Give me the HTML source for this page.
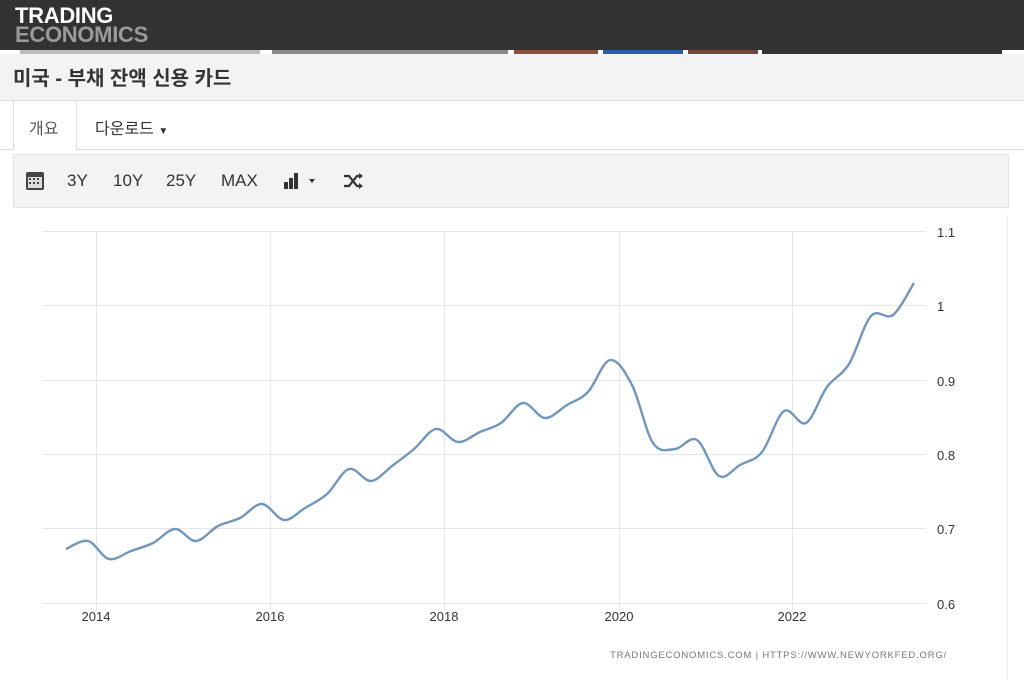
<!DOCTYPE html>
<html><head><meta charset="utf-8"><style>
body{margin:0;width:1024px;height:680px;background:#fff;font-family:"Liberation Sans","Noto Sans CJK KR",sans-serif;overflow:hidden;position:relative}
.hdr{position:absolute;left:0;top:0;width:1024px;height:50px;background:#323232}
.logo{position:absolute;left:15px;top:6px;font-weight:bold;font-size:22px;line-height:19px;letter-spacing:-0.3px}
.strip{position:absolute;top:50px;height:4px}
.title{position:absolute;left:0;top:54px;width:1024px;height:46px;background:#f3f3f3;border-bottom:1px solid #ddd}
.title span{position:absolute;left:13px;top:8px;font-size:20px;font-weight:bold;color:#333}
.tabs{position:absolute;top:101px;left:0;width:1024px;height:48px;border-bottom:1px solid #ddd}
.tb{position:absolute;left:13px;top:154px;width:994px;height:52px;background:#f3f3f3;border:1px solid #e2e2e2}
.tb span{position:absolute;top:16px;font-size:17px;color:#333}
</style></head><body>
<div class="hdr"><div class="logo"><div style="color:#fff">TRADING</div><div style="color:#9a9a9a">ECONOMICS</div></div></div>
<div class="strip" style="left:20px;width:240px;background:#bbb"></div>
<div class="strip" style="left:272px;width:236px;background:#888"></div>
<div class="strip" style="left:514px;width:84px;background:#8a5040"></div>
<div class="strip" style="left:603px;width:80px;background:#2a5cb0"></div>
<div class="strip" style="left:688px;width:70px;background:#704838"></div>
<div class="strip" style="left:762px;width:240px;background:#333"></div>
<div class="title"><span>미국 - 부채 잔액 신용 카드</span></div>
<div class="tabs">
<div style="position:absolute;left:13px;top:0;width:62px;height:49px;background:#fff;border-left:1px solid #ddd;border-right:1px solid #ddd"></div>
<span style="position:absolute;left:29px;top:14px;font-size:16px;color:#555">개요</span>
<span style="position:absolute;left:95px;top:14px;font-size:16px;color:#333">다운로드 <span style="font-size:10px">▼</span></span>
</div>
<div class="tb">
<svg style="position:absolute;left:11px;top:16px" width="20" height="20"><rect x="1" y="1" width="18" height="18" rx="2" fill="#444"/><rect x="3" y="6" width="14" height="11" fill="#ddd"/><g fill="#444"><rect x="4" y="7" width="2" height="2"/><rect x="8" y="7" width="2" height="2"/><rect x="12" y="7" width="2" height="2"/><rect x="4" y="11" width="2" height="2"/><rect x="8" y="11" width="2" height="2"/><rect x="12" y="11" width="2" height="2"/></g></svg>
<span style="left:53px">3Y</span><span style="left:99px">10Y</span><span style="left:152px">25Y</span><span style="left:207px">MAX</span>
<svg style="position:absolute;left:269px;top:17px" width="40" height="18"><rect x="1" y="10" width="4" height="7" fill="#333"/><rect x="6" y="6" width="4" height="11" fill="#333"/><rect x="11" y="1" width="4" height="16" fill="#333"/><path d="M26 7l6 0-3 4z" fill="#333"/></svg>
<svg style="position:absolute;left:328px;top:16px" width="22" height="20"><path d="M2 5h5l8 10h4M2 15h5l8-10h4" stroke="#333" stroke-width="2.2" fill="none"/><path d="M17 2l4 3-4 3zM17 12l4 3-4 3z" fill="#333"/></svg>
</div>
<div style="position:absolute;left:1007px;top:215px;width:1px;height:465px;background:#eee"></div>
<svg width="1024" height="680" style="position:absolute;left:0;top:0">
<g stroke="#e6e6e6" stroke-width="1">
<line x1="43" x2="926" y1="231.5" y2="231.5"/><line x1="43" x2="926" y1="305.5" y2="305.5"/><line x1="43" x2="926" y1="380.5" y2="380.5"/><line x1="43" x2="926" y1="454.5" y2="454.5"/><line x1="43" x2="926" y1="528.5" y2="528.5"/><line x1="43" x2="926" y1="603.5" y2="603.5"/>
<line x1="96.5" x2="96.5" y1="231" y2="610"/><line x1="270.5" x2="270.5" y1="231" y2="610"/><line x1="444.5" x2="444.5" y1="231" y2="610"/><line x1="619.5" x2="619.5" y1="231" y2="610"/><line x1="792.5" x2="792.5" y1="231" y2="610"/>
</g>
<g font-family="Liberation Sans,sans-serif" font-size="13" fill="#333">
<text x="937" y="237">1.1</text><text x="937" y="311">1</text><text x="937" y="386">0.9</text><text x="937" y="460">0.8</text><text x="937" y="534">0.7</text><text x="937" y="609">0.6</text>
<g text-anchor="middle"><text x="96" y="621">2014</text><text x="270" y="621">2016</text><text x="444" y="621">2018</text><text x="619" y="621">2020</text><text x="792" y="621">2022</text></g>
</g>
<text x="947" y="658" text-anchor="end" font-family="Liberation Sans,sans-serif" font-size="9.5" fill="#777" letter-spacing="0.8">TRADINGECONOMICS.COM  |  HTTPS://WWW.NEWYORKFED.ORG/</text>
<path id="ln" fill="none" stroke="#6f96bd" stroke-width="2.4"/>
</svg>
<script>
var p=[[66,549],[88,541],[109,559],[131,551],[153,543],[175,529],[196,541],[218,526],[240,518],[262,504],[284,520],[305,508],[327,494],[349,469],[371,481],[392,466],[414,449],[436,429],[458,442],[480,432],[501,423],[523,403],[545,418],[567,405],[588,392],[610,360],[632,385],[653,443],[675,449],[697,440],[719,476],[740,465],[762,452],[784,411],[806,423],[827,387],[849,364],[871,316],[893,315],[914,283]];
var d="M"+p[0];
for(var i=0;i<p.length-1;i++){var a=p[i-1]||p[i],b=p[i],c=p[i+1],e=p[i+2]||c;
d+="C"+(b[0]+(c[0]-a[0])/6)+","+(b[1]+(c[1]-a[1])/6)+" "+(c[0]-(e[0]-b[0])/6)+","+(c[1]-(e[1]-b[1])/6)+" "+c;}
document.getElementById("ln").setAttribute("d",d);
</script>
</body></html>
